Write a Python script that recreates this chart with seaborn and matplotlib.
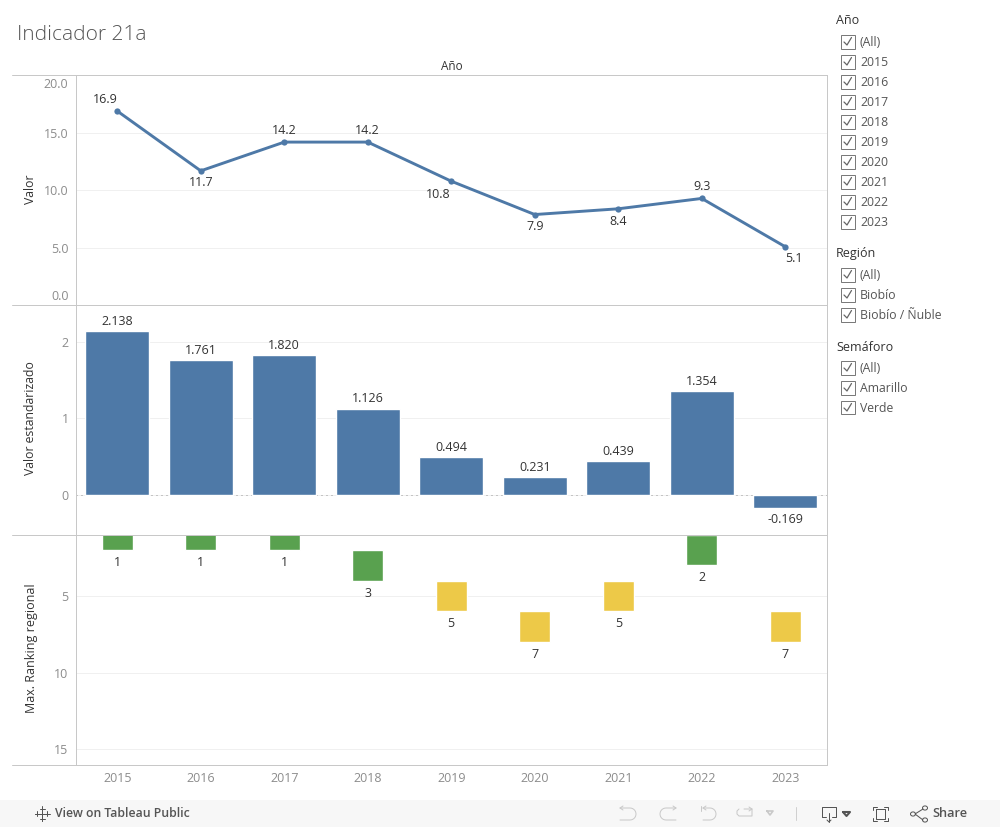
import pandas as pd
import numpy as np
from matplotlib import pyplot as plt
from matplotlib.patches import Rectangle, Circle
from matplotlib.lines import Line2D
import seaborn as sns

years = ["2015", "2016", "2017", "2018", "2019", "2020", "2021", "2022", "2023"]
valor = [16.9, 11.7, 14.2, 14.2, 10.8, 7.9, 8.4, 9.3, 5.1]
valor_std = [2.138, 1.761, 1.820, 1.126, 0.494, 0.231, 0.439, 1.354, -0.169]
ranking = [1, 1, 1, 3, 5, 7, 5, 2, 7]
semaforo = ["Verde", "Verde", "Verde", "Verde", "Amarillo", "Amarillo", "Amarillo", "Verde", "Amarillo"]

# label offsets from the line points, in pixels
valor_dx = [-12, 0, 0, 0, -13, 0, 0, 0, 9]
valor_dy = [12, -12, 12, 12, -13, -12, -13, 12, -12]

filtros = [
    ("Año", ["(All)"] + years),
    ("Región", ["(All)", "Biobío", "Biobío / Ñuble"]),
    ("Semáforo", ["(All)", "Amarillo", "Verde"]),
]
filtro_y = [20, 253, 346]

BLUE = "#4e79a7"
GREEN = "#59a14f"
YELLOW = "#edc948"
GRID = "#f0f0f0"
LINE = "#c8c8c8"
TICK = "#8c8c8c"
DARK = "#333333"
sem_colors = {"Verde": GREEN, "Amarillo": YELLOW}
PX = 0.72  # one pixel in points at dpi 100

sns.set_theme(style="white")
plt.rcParams["font.family"] = ["Open Sans", "DejaVu Sans"]

df = pd.DataFrame({"year": years, "valor": valor, "std": valor_std, "rank": ranking, "sem": semaforo})
df["rank_bottom"] = df["rank"] - 1
df["rank_h"] = 2

W, H = 1000, 827
fig = plt.figure(figsize=(10, 8.27), dpi=100, facecolor="white")


def px_axes(x0, y0, x1, y1):
    return fig.add_axes([x0 / W, 1 - y1 / H, (x1 - x0) / W, (y1 - y0) / H])


ax1 = px_axes(75.5, 74.7, 827, 304.7)
ax2 = px_axes(75.5, 304.7, 827, 534.7)
ax3 = px_axes(75.5, 534.7, 827, 764.7)

# top panel: line
sns.lineplot(data=df, x="year", y="valor", ax=ax1, color=BLUE, linewidth=2.1, marker="o",
             markersize=4.5, markeredgewidth=0, sort=False, zorder=3)
ax1.set_ylim(0.06, 20.06)
ax1.set_yticks([5, 10, 15])
ax1.set_yticklabels(["5.0", "10.0", "15.0"])
# the 0.0 and 20.0 labels sit inside the panel in the original
ax1.annotate("20.0", (0, 1), xycoords="axes fraction", xytext=(-5, -7.2), textcoords="offset points",
             ha="right", va="center", fontsize=9, color=TICK, annotation_clip=False)
ax1.annotate("0.0", (0, 0), xycoords="axes fraction", xytext=(-5, 6.2), textcoords="offset points",
             ha="right", va="center", fontsize=9, color=TICK, annotation_clip=False)
for i, v in enumerate(valor):
    ax1.annotate(f"{v:.1f}", (i, v), xytext=(valor_dx[i] * PX, valor_dy[i] * PX), textcoords="offset points",
                 ha="center", va="center", fontsize=9, color=DARK)

# middle panel: bars
sns.barplot(data=df, x="year", y="std", ax=ax2, color=BLUE, saturation=1, width=0.765, zorder=3)
ax2.set_ylim(-0.523, 2.484)
ax2.set_yticks([0, 1, 2])
ax2.axhline(0, color="#9a9a9a", lw=PX, ls=(0, (1, 4)), zorder=2)
for i, v in enumerate(valor_std):
    off = 7 if v >= 0 else -8.5
    ax2.annotate(f"{v:.3f}", (i, v), xytext=(0, off), textcoords="offset points",
                 ha="center", va="center", fontsize=9, color=DARK)

# bottom panel: ranking blocks, two units tall centred on the rank
sns.barplot(data=df, x="year", y="rank_h", bottom=df["rank_bottom"].values, color=GREEN,
            saturation=1, width=0.37, ax=ax3, zorder=3)
for patch, s in zip(ax3.patches, semaforo):
    patch.set_facecolor(sem_colors[s])
ax3.set_ylim(16.02, 0.99)
ax3.set_yticks([5, 10, 15])
for i, r in enumerate(ranking):
    ax3.annotate(str(r), (i, r + 1), xytext=(0, -9), textcoords="offset points",
                 ha="center", va="center", fontsize=9, color=DARK)

for ax in [ax1, ax2, ax3]:
    ax.set_xlim(-0.5, 8.5)
    ax.grid(axis="y", color=GRID, lw=PX, zorder=0)
    ax.set_axisbelow(True)
    ax.set_xlabel("")
    ax.set_ylabel("")
    for s in ax.spines.values():
        s.set_visible(False)
    for side in ["left", "right"]:
        ax.spines[side].set_visible(True)
        ax.spines[side].set_color(LINE)
        ax.spines[side].set_linewidth(PX)
    ax.tick_params(axis="y", left=False, length=0, labelsize=9, labelcolor=TICK, pad=5)
    ax.tick_params(axis="x", bottom=False, length=0, labelbottom=False)

ax3.tick_params(axis="x", labelbottom=True, labelsize=9, labelcolor=TICK, pad=5)
ax3.set_xticks(range(len(years)))
ax3.set_xticklabels(years)


def t(x, y, s, **kw):
    kw.setdefault("fontsize", 9)
    kw.setdefault("color", DARK)
    kw.setdefault("va", "center")
    return fig.text(x / W, 1 - y / H, s, **kw)


def hline(x0, x1, y, color=LINE, lw=PX):
    fig.add_artist(Line2D([x0 / W, x1 / W], [1 - y / H, 1 - y / H], color=color, lw=lw))


def poly(xs, ys, color="#9a9a9a", lw=PX):
    fig.add_artist(Line2D([x / W for x in xs], [1 - y / H for y in ys], color=color, lw=lw,
                          solid_capstyle="round"))


for y in [74.7, 304.7, 534.7, 764.7]:
    hline(12, 827, y)

t(17, 34.5, "Indicador 21a", fontsize=15, color="#555555", fontweight="light", ha="left")
t(451.5, 66, "Año", ha="center", fontsize=8.5)
t(30, 189, "Valor", rotation=90, ha="center", fontsize=8.8)
t(30, 418.5, "Valor estandarizado", rotation=90, ha="center", fontsize=8.8)
t(31, 648, "Max. Ranking regional", rotation=90, ha="center", fontsize=9)

# filter cards on the right
for (name, items), y0 in zip(filtros, filtro_y):
    t(836, y0 + 1, name, ha="left", fontsize=9)
    for j, item in enumerate(items):
        yy = y0 + 21 + j * 20
        fig.add_artist(Rectangle((840.5 / W, 1 - (yy + 7.5) / H), 14 / W, 14 / H, transform=fig.transFigure,
                                 fc="white", ec="#7a7a7a", lw=PX))
        poly([844, 847, 851.5], [yy + 1, yy + 4, yy - 3.5], color="#666666", lw=0.9)
        t(860, yy + 1.5, item, ha="left", fontsize=8.8, color="#555555")

# bottom toolbar
fig.add_artist(Rectangle((0, 0), 1, 27 / H, transform=fig.transFigure, fc="#f7f7f7", ec="none"))
t(55, 813.5, "View on Tableau Public", ha="left", fontsize=8.8, color="#555555", fontweight="semibold")
t(932, 813.5, "Share", ha="left", fontsize=9.2, color="#555555", fontweight="semibold")

# tableau logo
for dx, dy, r in [(0, 0, 7), (-5, 0, 2.5), (5, 0, 2.5), (0, -5, 2.5), (0, 5, 2.5)]:
    poly([42 + dx - r, 42 + dx + r], [813.5 + dy, 813.5 + dy], color="#555555")
    poly([42 + dx, 42 + dx], [813.5 + dy - r, 813.5 + dy + r], color="#555555")

# undo / redo / revert / refresh
ICON_OFF = "#c9c9c9"
ang = np.linspace(-np.pi / 2, np.pi / 2, 14)
poly([620, 630] + list(630 + 6 * np.cos(ang)) + [620], [808, 808] + list(814 + 6 * np.sin(ang)) + [820], ICON_OFF)
poly([623, 620, 623], [806, 808, 810], ICON_OFF)
poly([676, 666] + list(666 - 6 * np.cos(ang)) + [676], [808, 808] + list(814 + 6 * np.sin(ang)) + [820], ICON_OFF)
poly([673, 676, 673], [806, 808, 810], ICON_OFF)
poly([703, 710] + list(710 + 6 * np.cos(ang)) + [703], [808, 808] + list(814 + 6 * np.sin(ang)) + [820], ICON_OFF)
poly([706, 703, 706], [806, 808, 810], ICON_OFF)
poly([701, 701], [806, 811], ICON_OFF)
poly([744, 752, 752, 739, 737, 737, 739], [809, 809, 816, 816, 814, 811, 809], ICON_OFF)
poly([749, 752, 749], [807, 809, 811], ICON_OFF)
poly([767, 773, 770, 767], [811, 811, 815, 811], ICON_OFF, lw=1.2)
poly([795.5, 795.5], [807, 820], "#d0d0d0")

# download, fullscreen, share
ICON_ON = "#555555"
poly([826, 822, 822, 836, 836, 832], [817, 817, 807, 807, 817, 817], ICON_ON)
poly([829, 829], [813, 822], ICON_ON)
poly([827, 829, 831], [820, 822, 820], ICON_ON)
poly([843, 850, 846.5, 843], [812, 812, 816, 812], ICON_ON, lw=1.5)
poly([876, 885, 885, 876, 876], [809, 809, 819, 819, 809], ICON_ON)
poly([873, 873, 877], [810, 807, 807], ICON_ON)
poly([884, 888, 888], [807, 807, 810], ICON_ON)
poly([873, 873, 877], [818, 821, 821], ICON_ON)
poly([884, 888, 888], [821, 821, 818], ICON_ON)
poly([923, 915, 923], [809, 814, 820], ICON_ON)
for cx, cy in [(925, 808), (913, 814), (925, 820)]:
    fig.add_artist(Circle((cx / W, 1 - cy / H), 2.5 / W, transform=fig.transFigure, fc="#f7f7f7", ec=ICON_ON, lw=PX))

fig.savefig("out.png", dpi=100, facecolor="white")
